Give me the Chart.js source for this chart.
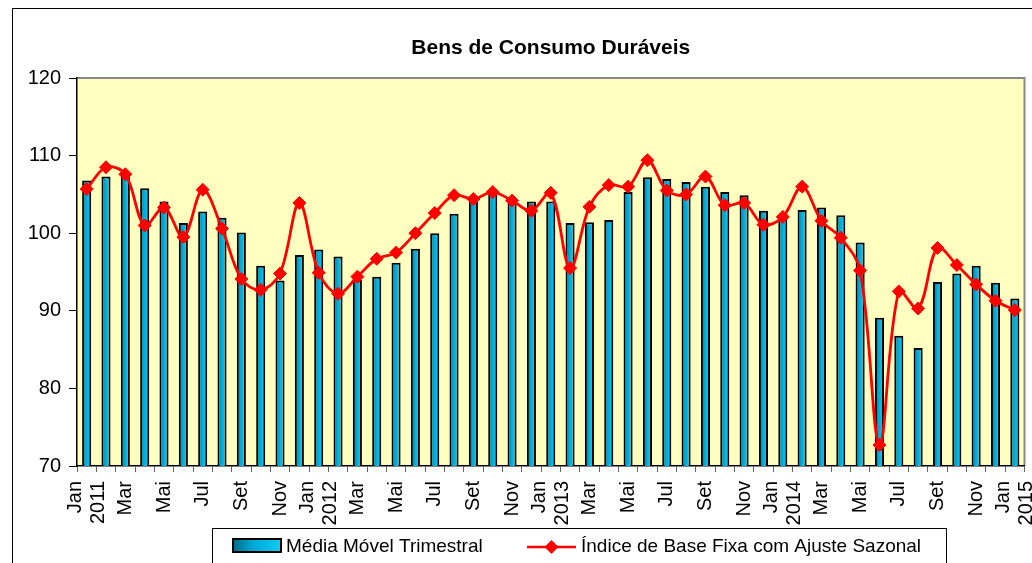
<!DOCTYPE html>
<html>
<head>
<meta charset="utf-8">
<script src="https://cdn.jsdelivr.net/npm/chart.js@4.4.1/dist/chart.umd.min.js"></script>
<style>
  html, body { margin: 0; padding: 0; background: #fff; overflow: hidden; }
  #wrap { position: relative; width: 1032px; height: 563px; }
</style>
</head>
<body>
<div id="wrap"><canvas id="graf" width="1032" height="563"></canvas></div>
<script>
// meses de jan/2011 a jan/2015
const categorias = [
  "Jan 2011", "Fev 2011", "Mar 2011", "Abr 2011", "Mai 2011", "Jun 2011", "Jul 2011", "Ago 2011", "Set 2011", "Out 2011", "Nov 2011", "Dez 2011",
  "Jan 2012", "Fev 2012", "Mar 2012", "Abr 2012", "Mai 2012", "Jun 2012", "Jul 2012", "Ago 2012", "Set 2012", "Out 2012", "Nov 2012", "Dez 2012",
  "Jan 2013", "Fev 2013", "Mar 2013", "Abr 2013", "Mai 2013", "Jun 2013", "Jul 2013", "Ago 2013", "Set 2013", "Out 2013", "Nov 2013", "Dez 2013",
  "Jan 2014", "Fev 2014", "Mar 2014", "Abr 2014", "Mai 2014", "Jun 2014", "Jul 2014", "Ago 2014", "Set 2014", "Out 2014", "Nov 2014", "Dez 2014",
  "Jan 2015"
];

// rotulos mostrados no eixo x (um mes sim, outro nao)
const rotulosX = [
  ["Jan", "2011"], "", "Mar", "", "Mai", "", "Jul", "", "Set", "", "Nov", "",
  ["Jan", "2012"], "", "Mar", "", "Mai", "", "Jul", "", "Set", "", "Nov", "",
  ["Jan", "2013"], "", "Mar", "", "Mai", "", "Jul", "", "Set", "", "Nov", "",
  ["Jan", "2014"], "", "Mar", "", "Mai", "", "Jul", "", "Set", "", "Nov", "",
  ["Jan", "2015"]
];

const mediaMovel = [
  106.8, 107.3, 107.4, 105.8, 104.1, 101.3, 102.8, 102.0, 100.1, 95.8, 93.9, 97.2,
  97.9, 97.0, 94.0, 94.4, 96.2, 98.0, 100.0, 102.5, 104.2, 105.1, 104.4, 104.1,
  104.1, 101.3, 101.4, 101.7, 105.3, 107.2, 107.0, 106.6, 106.0, 105.3, 104.9, 102.9,
  102.2, 103.0, 103.3, 102.3, 98.8, 89.1, 86.8, 85.2, 93.7, 94.8, 95.8, 93.6,
  91.6
];

const indiceAjuste = [
  105.7, 108.5, 107.6, 101.0, 103.3, 99.5, 105.6, 100.6, 94.1, 92.7, 94.8, 103.9,
  94.9, 92.2, 94.4, 96.7, 97.5, 100.0, 102.6, 104.9, 104.4, 105.3, 104.2, 102.9,
  105.2, 95.5, 103.4, 106.2, 106.0, 109.4, 105.5, 105.0, 107.3, 103.6, 103.9, 101.1,
  102.1, 106.0, 101.6, 99.4, 95.2, 72.7, 92.5, 90.3, 98.1, 95.9, 93.4, 91.3,
  90.1
];

const ticksY = [70, 80, 90, 100, 110, 120];

const titulo = "Bens de Consumo Duráveis";
const nomeBarras = "Média Móvel Trimestral";
const nomeLinha = "Índice de Base Fixa com Ajuste Sazonal";

const FONTE = '"Liberation Sans", Arial, sans-serif';
const LARG_BARRA = 0.47;

function gradBarra(ctx, x0, x1) {
  const g = ctx.createLinearGradient(x0, 0, x1, 0);
  g.addColorStop(0, "#006a86");
  g.addColorStop(0.4, "#00a8d4");
  g.addColorStop(1, "#10ccf6");
  return g;
}

const fundo = {
  id: "fundo",
  beforeDraw(chart) {
    const { ctx, chartArea: a } = chart;
    ctx.save();
    ctx.fillStyle = "#fff";
    ctx.fillRect(0, 0, chart.width, chart.height);
    ctx.strokeStyle = "#000";
    ctx.lineWidth = 1;
    ctx.strokeRect(12.5, 8.5, 1100, 700);
    ctx.fillStyle = "#ffffc0";
    ctx.fillRect(a.left, a.top, a.right - a.left, a.bottom - a.top);
    ctx.strokeStyle = "#888";
    ctx.lineWidth = 2;
    ctx.beginPath();
    ctx.moveTo(a.left, a.top);
    ctx.lineTo(a.right, a.top);
    ctx.lineTo(a.right, a.bottom);
    ctx.stroke();
    ctx.restore();
  }
};

const textos = {
  id: "textos",
  afterDraw(chart) {
    const { ctx, chartArea: a } = chart;
    const xs = chart.scales.x;
    ctx.save();
    ctx.fillStyle = "#000";

    // titulo
    ctx.font = "bold 21px " + FONTE;
    ctx.textAlign = "center";
    ctx.textBaseline = "alphabetic";
    ctx.fillText(titulo, (a.left + a.right) / 2, 54);

    // rotulos do eixo x, girados
    ctx.font = "20px " + FONTE;
    const lh = 23;
    rotulosX.forEach((r, i) => {
      if (!r) return;
      const linhas = Array.isArray(r) ? r : [r];
      const x = xs.getPixelForValue(i);
      ctx.save();
      ctx.translate(x, a.bottom + 15);
      ctx.rotate(-Math.PI / 2);
      ctx.textAlign = "right";
      ctx.textBaseline = "middle";
      linhas.forEach((l, k) => {
        ctx.fillText(l, 0, (k - (linhas.length - 1) / 2) * lh);
      });
      ctx.restore();
    });

    // legenda
    ctx.strokeStyle = "#000";
    ctx.lineWidth = 1;
    ctx.strokeRect(212.5, 528.5, 734, 60);
    ctx.fillStyle = gradBarra(ctx, 233, 281);
    ctx.fillRect(233, 539, 48, 13);
    ctx.lineWidth = 2;
    ctx.strokeRect(233, 539, 48, 13);
    ctx.fillStyle = "#000";
    ctx.font = "19px " + FONTE;
    ctx.textAlign = "left";
    ctx.textBaseline = "middle";
    ctx.fillText(nomeBarras, 286, 547);

    ctx.strokeStyle = "#ff0000";
    ctx.lineWidth = 2.5;
    ctx.beginPath();
    ctx.moveTo(527, 547);
    ctx.lineTo(576, 547);
    ctx.stroke();
    ctx.fillStyle = "#ff0000";
    ctx.beginPath();
    ctx.moveTo(551.5, 540);
    ctx.lineTo(558.5, 547);
    ctx.lineTo(551.5, 554);
    ctx.lineTo(544.5, 547);
    ctx.closePath();
    ctx.fill();
    ctx.fillStyle = "#000";
    ctx.fillText(nomeLinha, 581, 547);
    ctx.restore();
  }
};

new Chart(document.getElementById("graf"), {
  data: {
    labels: categorias,
    datasets: [
      {
        type: "line",
        label: nomeLinha,
        data: indiceAjuste,
        order: 0,
        borderColor: "#ff0000",
        borderWidth: 2.8,
        tension: 0.35,
        pointStyle: "rectRot",
        pointRadius: 6.5,
        pointBackgroundColor: "#ff0000",
        pointBorderColor: "#ff0000",
        pointBorderWidth: 1,
        fill: false,
      },
      {
        type: "bar",
        label: nomeBarras,
        data: mediaMovel,
        order: 1,
        categoryPercentage: 1,
        barPercentage: LARG_BARRA,
        borderColor: "#000",
        borderWidth: 2,
        borderSkipped: false,
        backgroundColor: (c) => {
          const xs = c.chart.scales.x;
          if (!xs || c.type !== "data") return "#00a8d4";
          const w = (xs.width / categorias.length) * LARG_BARRA;
          const x = xs.getPixelForValue(c.dataIndex);
          if (!isFinite(x) || !isFinite(w) || w <= 0) return "#00a8d4";
          return gradBarra(c.chart.ctx, x - w / 2, x + w / 2);
        },
      },
    ],
  },
  options: {
    responsive: false,
    animation: false,
    layout: { padding: { top: 78, right: 4, bottom: 0, left: 0 } },
    plugins: {
      legend: { display: false },
      title: { display: false },
      tooltip: { enabled: false },
    },
    scales: {
      x: {
        type: "category",
        offset: true,
        afterFit: (s) => { s.height = 97; },
        ticks: { display: false },
        grid: {
          offset: true,
          drawOnChartArea: false,
          drawTicks: true,
          tickLength: 6,
          color: "#666",
        },
        border: { color: "#000", width: 1.5 },
      },
      y: {
        min: 70,
        max: 120,
        afterFit: (s) => { s.width = 77; },
        afterBuildTicks: (s) => { s.ticks = ticksY.map((v) => ({ value: v })); },
        ticks: {
          color: "#000",
          padding: 8,
          font: { family: FONTE, size: 20 },
        },
        grid: {
          drawOnChartArea: false,
          drawTicks: true,
          tickLength: 8,
          color: "#000",
        },
        border: { color: "#000", width: 1.5 },
      },
    },
  },
  plugins: [fundo, textos],
});
</script>
</body>
</html>
